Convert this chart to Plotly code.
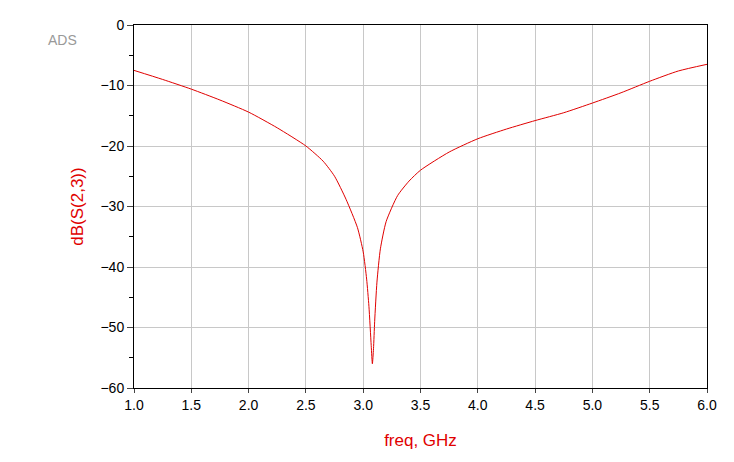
import plotly.graph_objects as go

freq = [1.0,1.25,1.5,1.75,2.0,2.25,2.5,2.65,2.75,2.85,2.95,3.0,3.03,3.05,3.07,3.08,3.09,3.1,3.12,3.15,3.2,3.3,3.4,3.5,3.75,4.0,4.25,4.5,4.75,5.0,5.25,5.5,5.75,6.0]
s23 = [-7.5,-9.0,-10.6,-12.4,-14.4,-17.0,-20.0,-22.5,-25.0,-28.8,-33.5,-37.5,-42.0,-46.5,-53.0,-56.0,-53.5,-49.0,-42.5,-37.0,-32.5,-28.2,-25.8,-24.0,-21.0,-18.8,-17.2,-15.8,-14.5,-12.9,-11.2,-9.3,-7.6,-6.5]

x_ticks = [1.0,1.5,2.0,2.5,3.0,3.5,4.0,4.5,5.0,5.5,6.0]
y_ticks = [0,-10,-20,-30,-40,-50,-60]

fig = go.Figure(go.Scatter(x=freq, y=s23, mode="lines",
                           line=dict(color="#e00000", width=1, shape="spline", smoothing=0.6)))
fig.update_layout(
    width=734, height=462, margin=dict(l=126, r=35, t=17, b=82, autoexpand=False),
    plot_bgcolor="white", paper_bgcolor="white", showlegend=False,
    font=dict(family="Liberation Sans, Arial", size=14, color="black"),
)
fig.update_xaxes(range=[1, 6], tickvals=x_ticks, ticktext=[f"{v:.1f}" for v in x_ticks],
                 automargin=False,
                 showgrid=True, gridcolor="#c8c8c8", zeroline=False,
                 showline=True, linecolor="black", mirror=True, ticks="outside", ticklen=4,
                 title=dict(text="freq, GHz", font=dict(color="#e00000", size=17), standoff=22))
fig.update_yaxes(range=[-60, 0], tickvals=y_ticks, automargin=False,
                 showgrid=True, gridcolor="#c8c8c8", zeroline=False,
                 showline=True, linecolor="black", mirror=True, ticks="outside", ticklen=6,
                 minor=dict(dtick=5, ticks="outside", ticklen=4, showgrid=False, tickcolor="black"),
                 title=dict(text="dB(S(2,3))", font=dict(color="#e00000", size=17), standoff=12))
fig.add_annotation(text="ADS", xref="paper", yref="paper", x=-0.124, y=0.96,
                   xanchor="center", yanchor="middle", showarrow=False,
                   font=dict(color="#999999", size=14))
fig.write_html("out.html")
